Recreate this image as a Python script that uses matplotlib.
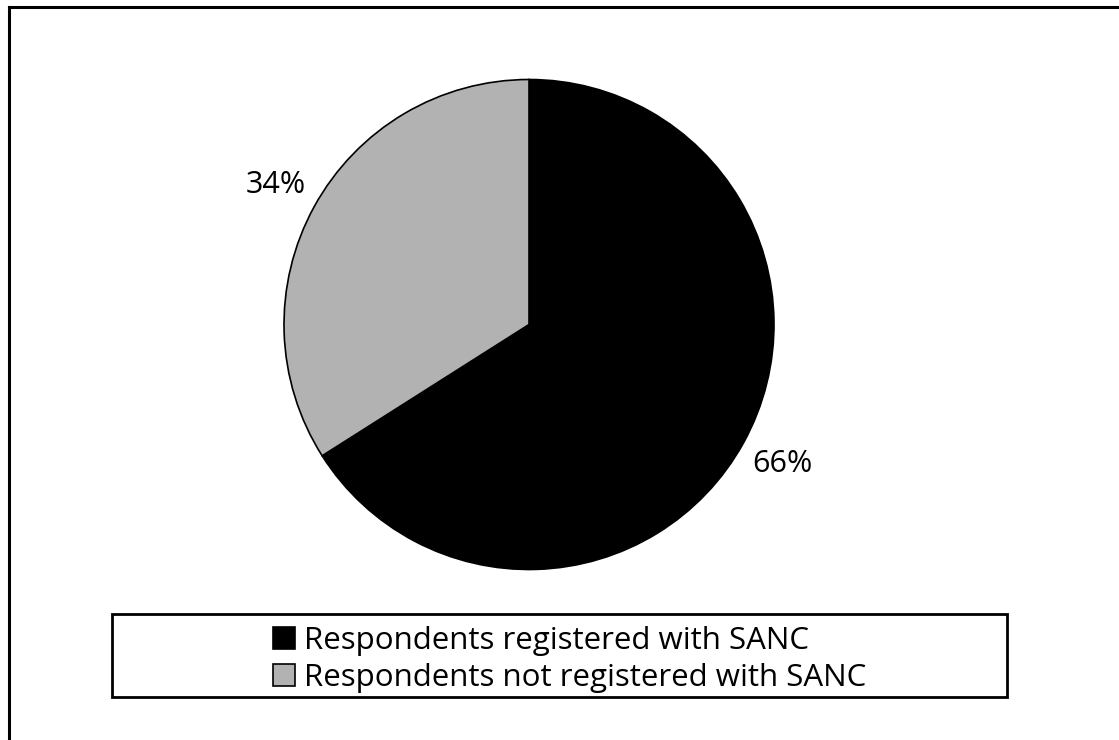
import matplotlib
matplotlib.use("Agg")
import matplotlib.pyplot as plt
from matplotlib.patches import Rectangle
from matplotlib.lines import Line2D

categories = ["Respondents registered with SANC", "Respondents not registered with SANC"]
shares = [66, 34]
colors = ["#000000", "#b2b2b2"]

W, H = 1119, 740
fig = plt.figure(figsize=(W / 100, H / 100), dpi=100)
fig.patch.set_facecolor("white")

# outer chart border (only top and left edges fall inside the canvas)
fig.add_artist(Line2D([9 / W, 9 / W], [0, 1 - 7 / H], color="black", lw=2.2,
                      transform=fig.transFigure))
fig.add_artist(Line2D([9 / W, 1], [1 - 7 / H, 1 - 7 / H], color="black", lw=2.2,
                      transform=fig.transFigure))

# pie area: centre (529, 324), radius ~245 px
cx, cy, r = 529, 324.5, 245
ax = fig.add_axes([(cx - r) / W, 1 - (cy + r) / H, 2 * r / W, 2 * r / H])
wedges, texts, autotexts = ax.pie(
    shares, colors=colors, startangle=90, counterclock=False,
    autopct=lambda p: f"{p:.0f}%", pctdistance=1.18,
    wedgeprops=dict(edgecolor="black", linewidth=1.2),
    textprops=dict(fontsize=22, color="black", family="Open Sans"),
)
ax.set_xlim(-1, 1)
ax.set_ylim(-1, 1)
ax.set_aspect("equal")
ax.axis("off")

# legend box
bx0, by0, bx1, by1 = 112, 614, 1007, 697
fig.add_artist(Rectangle((bx0 / W, 1 - by1 / H), (bx1 - bx0) / W, (by1 - by0) / H,
                         transform=fig.transFigure, fill=False,
                         edgecolor="black", lw=2))
handles = [Rectangle((0, 0), 1, 1, facecolor=c, edgecolor="black", lw=1.2) for c in colors]
fig.legend(handles, categories, loc="center",
           bbox_to_anchor=((bx0 + bx1) / 2 / W + 10 / W, 1 - (by0 + by1 + 8) / 2 / H),
           frameon=False, prop=dict(family="Open Sans", size=22.5),
           handlelength=0.7, handleheight=0.7, handletextpad=0.3,
           labelspacing=0.22, borderpad=0)

fig.savefig("out.png", dpi=100, facecolor="white")
